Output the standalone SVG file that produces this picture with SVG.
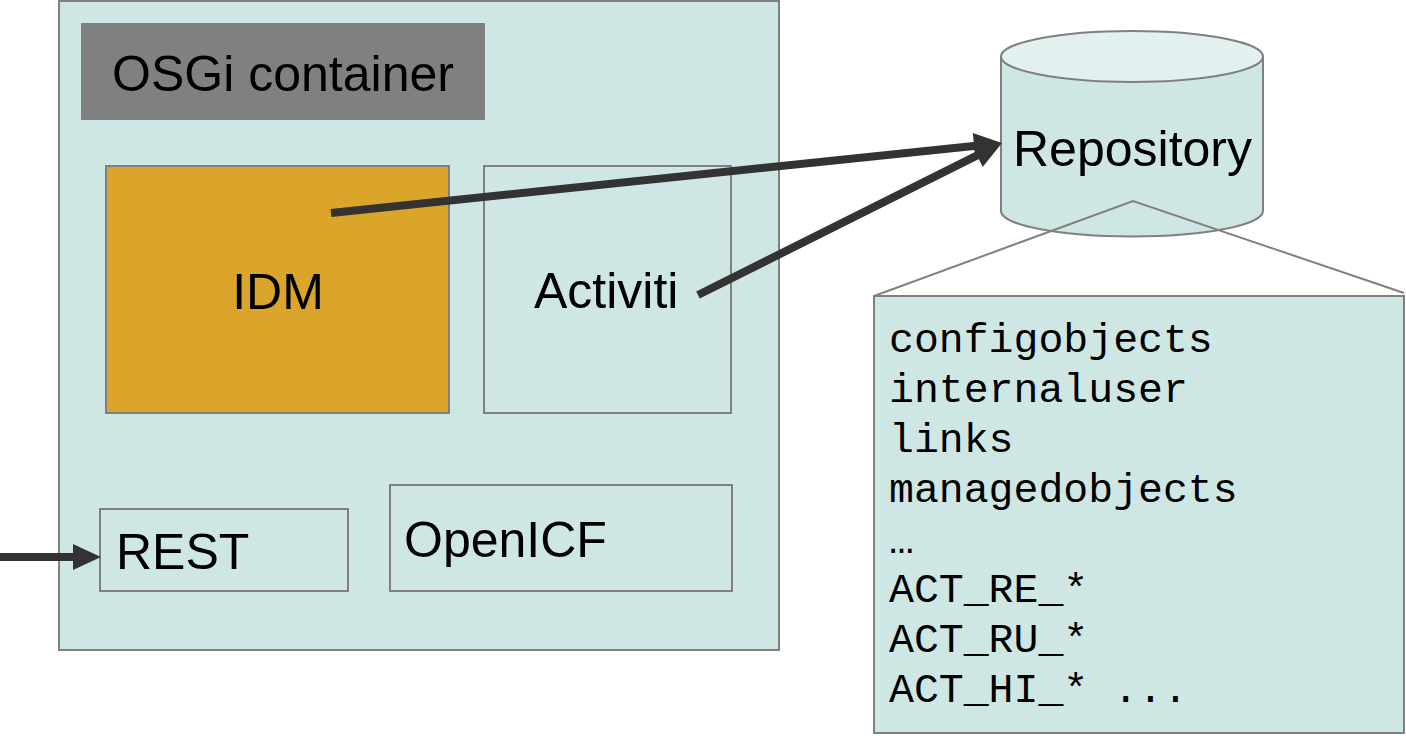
<svg xmlns="http://www.w3.org/2000/svg" width="1406" height="741" viewBox="0 0 1406 741">
<style>
.box{fill:#cfe7e4;stroke:#808080;stroke-width:2}
.lbl{font-family:"Liberation Sans",Arial,sans-serif;font-size:50px;fill:#000}
.mono{font-family:"Liberation Mono","Courier New",monospace;font-size:41.5px;fill:#000}
.conn{stroke:#333;stroke-width:8;fill:none}
</style>
<defs>
<marker id="ah" markerUnits="userSpaceOnUse" markerWidth="30" markerHeight="26" refX="2" refY="13" orient="auto" overflow="visible">
<path d="M0,0 L28,13 L0,26 z" fill="#333"/>
</marker>
</defs>
<rect width="1406" height="741" fill="#fff"/>
<g id="container">
<rect class="box" x="59" y="1" width="720" height="649"/>
</g>
<g id="osgi-label">
<rect x="81" y="23" width="404" height="97" fill="#808080" rx="1"/>
<text class="lbl" x="283" y="91" text-anchor="middle">OSGi container</text>
</g>
<g id="idm">
<rect x="106" y="166" width="343" height="247" fill="#daa52a" stroke="#808080" stroke-width="2"/>
<text class="lbl" x="278" y="309" text-anchor="middle">IDM</text>
</g>
<g id="activiti">
<rect class="box" x="484" y="166" width="247" height="247"/>
<text class="lbl" x="534" y="308">Activiti</text>
</g>
<g id="rest">
<rect class="box" x="100" y="509" width="248" height="82"/>
<text class="lbl" x="116" y="569">REST</text>
</g>
<g id="openicf">
<rect class="box" x="390" y="485" width="342" height="106"/>
<text class="lbl" x="404" y="557">OpenICF</text>
</g>
<g id="repository">
<path d="M1001,56.5 L1001,211 A131,25.5 0 0 0 1263,211 L1263,56.5" fill="#cfe7e4" stroke="#808080" stroke-width="2"/>
<ellipse cx="1132" cy="56.5" rx="131" ry="25.5" fill="#e2f0ef" stroke="#808080" stroke-width="2"/>
<text class="lbl" x="1013" y="166">Repository</text>
</g>
<g id="callout">
<polyline points="874,296 1133,201 1404,293" fill="none" stroke="#808080" stroke-width="2"/>
</g>
<g id="tables">
<rect class="box" x="874" y="296" width="530" height="437"/>
<text class="mono" x="889" y="352">configobjects</text>
<text class="mono" x="889" y="402">internaluser</text>
<text class="mono" x="889" y="452">links</text>
<text class="mono" x="889" y="502">managedobjects</text>
<text class="mono" x="889" y="553">…</text>
<text class="mono" x="889" y="602">ACT_RE_*</text>
<text class="mono" x="889" y="652">ACT_RU_*</text>
<text class="mono" x="889" y="702">ACT_HI_* ...</text>
</g>
<g id="connectors">
<line class="conn" x1="331" y1="213" x2="976.1" y2="145.7" marker-end="url(#ah)"/>
<line class="conn" x1="698" y1="295" x2="978.7" y2="154.6" marker-end="url(#ah)"/>
<line class="conn" x1="0" y1="557" x2="75" y2="557" marker-end="url(#ah)"/>
</g>
</svg>
